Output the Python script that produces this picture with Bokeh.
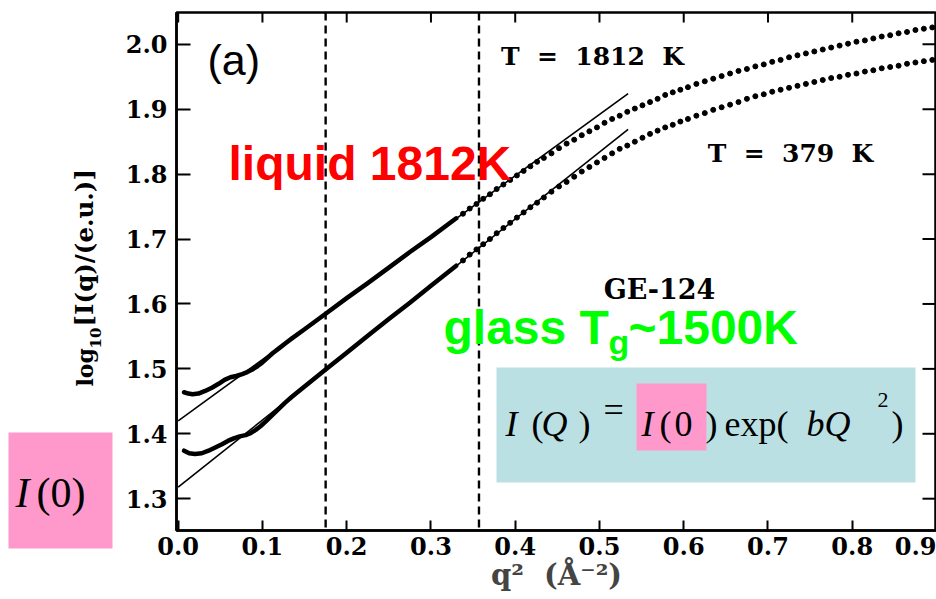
import math
from bokeh.plotting import figure
from bokeh.layouts import row
from bokeh.models import (Range1d, FixedTicker, PrintfTickFormatter,
                          Span, BoxAnnotation, Label)
from bokeh.core.properties import value
from bokeh.embed import file_html
from bokeh.resources import INLINE

# ---------------- data ----------------
# dense low-q part of the curves (drawn as a thick line)
q2_dense_1812 = [0.007, 0.012, 0.017, 0.024, 0.032, 0.040, 0.048, 0.055, 0.062, 0.069,
                 0.076, 0.082, 0.088, 0.094, 0.100, 0.106, 0.112, 0.120, 0.127, 0.135,
                 0.150, 0.175, 0.200, 0.225, 0.250, 0.275, 0.300, 0.330]
logI_dense_1812 = [1.464, 1.462, 1.461, 1.462, 1.466, 1.471, 1.477, 1.483, 1.487, 1.489,
                   1.492, 1.495, 1.499, 1.504, 1.510, 1.517, 1.524, 1.532, 1.539, 1.547,
                   1.561, 1.585, 1.609, 1.632, 1.656, 1.680, 1.703, 1.732]
q2_dense_379 = [0.007, 0.013, 0.020, 0.028, 0.036, 0.044, 0.052, 0.059, 0.066, 0.073,
                0.080, 0.086, 0.092, 0.098, 0.104, 0.111, 0.119, 0.127, 0.135, 0.150,
                0.175, 0.200, 0.225, 0.250, 0.275, 0.300, 0.330]
logI_dense_379 = [1.374, 1.370, 1.369, 1.370, 1.374, 1.379, 1.384, 1.389, 1.393, 1.396,
                  1.398, 1.401, 1.406, 1.412, 1.419, 1.428, 1.438, 1.448, 1.457, 1.473,
                  1.499, 1.525, 1.551, 1.577, 1.602, 1.628, 1.659]

# sparser high-q part (drawn as dots)
q2_dotted = [0.338, 0.346, 0.354, 0.362, 0.370, 0.378, 0.386, 0.394, 0.402, 0.410,
             0.418, 0.426, 0.434, 0.443, 0.452, 0.461, 0.470, 0.479, 0.488, 0.497,
             0.506, 0.515, 0.524, 0.533, 0.542, 0.551, 0.560, 0.569, 0.578, 0.587,
             0.596, 0.605, 0.615, 0.625, 0.635, 0.645, 0.655, 0.665, 0.675, 0.685,
             0.695, 0.705, 0.715, 0.725, 0.735, 0.745, 0.755, 0.765, 0.775, 0.785,
             0.795, 0.805, 0.815, 0.825, 0.835, 0.845, 0.855, 0.865, 0.875, 0.885,
             0.895, 0.905]
logI_dotted_1812 = [1.739, 1.747, 1.754, 1.762, 1.769, 1.777, 1.784, 1.791, 1.798, 1.805,
                    1.812, 1.819, 1.825, 1.832, 1.840, 1.847, 1.853, 1.860, 1.866, 1.872,
                    1.879, 1.885, 1.890, 1.896, 1.901, 1.906, 1.911, 1.916, 1.922, 1.926,
                    1.930, 1.934, 1.939, 1.943, 1.947, 1.951, 1.955, 1.959, 1.962, 1.966,
                    1.969, 1.973, 1.976, 1.980, 1.983, 1.986, 1.989, 1.992, 1.995, 1.998,
                    2.001, 2.004, 2.006, 2.009, 2.012, 2.014, 2.017, 2.019, 2.022, 2.024,
                    2.026, 2.028]
logI_dotted_379 = [1.667, 1.676, 1.684, 1.692, 1.700, 1.709, 1.717, 1.725, 1.733, 1.741,
                   1.749, 1.756, 1.764, 1.773, 1.781, 1.788, 1.796, 1.804, 1.811, 1.818,
                   1.825, 1.832, 1.839, 1.844, 1.850, 1.856, 1.862, 1.867, 1.872, 1.876,
                   1.881, 1.885, 1.890, 1.894, 1.899, 1.903, 1.907, 1.911, 1.916, 1.920,
                   1.923, 1.927, 1.930, 1.933, 1.936, 1.939, 1.942, 1.945, 1.948, 1.950,
                   1.953, 1.955, 1.958, 1.960, 1.963, 1.965, 1.967, 1.970, 1.972, 1.974,
                   1.976, 1.978]

# Guinier fit lines
fit_q2 = [0.0, 0.534]
fit_1812 = [1.420, 1.924]
fit_379 = [1.318, 1.869]

# dashed guide lines (fit window)
guide_q2 = [0.175, 0.357]

x_ticks = [0.0, 0.1, 0.2, 0.3, 0.4, 0.5, 0.6, 0.7, 0.8, 0.9]
y_ticks = [1.3, 1.4, 1.5, 1.6, 1.7, 1.8, 1.9, 2.0]

# ---------------- layout helpers (page pixel -> data) ----------------
W, H = 936, 599
SIDE_W = 118                       # left strip holding the y label and the I(0) tag
X_LO, X_HI = -0.002, 0.9
Y_LO, Y_HI = 1.251, 2.049
FL, FT, FR, FB = 176, 12, 936, 530  # frame edges in page pixels
BASE_FIX = 0.3                     # alphabetic-baseline correction (in em)
NB = "\u00a0"


def dx(px):
    return X_LO + (px - FL) * (X_HI - X_LO) / (FR - FL)


def dy(py):
    return Y_LO + (FB - py) * (Y_HI - Y_LO) / (FB - FT)


SERIF_B = "DejaVu Serif"
TS = "Liberation Serif"

# ---------------- main plot ----------------
p = figure(width=W - SIDE_W, height=H, x_range=Range1d(X_LO, X_HI), y_range=Range1d(Y_LO, Y_HI),
           output_backend="svg", toolbar_location=None,
           min_border_left=FL - SIDE_W, min_border_right=0, min_border_top=FT,
           min_border_bottom=H - FB,
           background_fill_color="white", border_fill_color="white")
p.grid.visible = False
p.outline_line_color = "black"
p.outline_line_width = 2.5
p.frame_align = False


def style_axis(ax, tick_in):
    ax.major_tick_in = tick_in
    ax.major_tick_out = 0
    ax.major_tick_line_width = 2
    ax.major_tick_line_color = "black"
    ax.minor_tick_line_color = None
    ax.axis_line_width = 2.5
    ax.axis_line_color = "black"
    ax.major_label_text_font = SERIF_B
    ax.major_label_text_font_style = "bold"
    ax.major_label_text_color = "black"
    ax.major_label_text_font_size = "24px"


xa = p.xaxis[0]
xa.ticker = FixedTicker(ticks=x_ticks)
xa.formatter = PrintfTickFormatter(format="%.1f")
style_axis(xa, 10)
xa.major_label_standoff = 6
xa.axis_label = "q\u00b2" + NB + NB + "(\u00c5\u207b\u00b2)"
xa.axis_label_text_font = SERIF_B
xa.axis_label_text_font_style = "bold"
xa.axis_label_text_font_size = "29px"
xa.axis_label_standoff = 0

ya = p.yaxis[0]
ya.ticker = FixedTicker(ticks=y_ticks)
ya.formatter = PrintfTickFormatter(format="%.1f")
style_axis(ya, 14)
ya.major_label_standoff = 9

# inward ticks on the top and right frame edges
p.ray(x=x_ticks, y=[Y_HI] * len(x_ticks), length=10, length_units="screen",
      angle=-math.pi / 2, line_color="black", line_width=2)
p.ray(x=[X_HI] * len(y_ticks), y=y_ticks, length=14, length_units="screen",
      angle=math.pi, line_color="black", line_width=2)

# dashed guides
for g in guide_q2:
    p.add_layout(Span(location=g, dimension="height", line_color="black",
                      line_width=2.4, line_dash="8 5"))

# fit lines
p.line(fit_q2, fit_1812, line_color="black", line_width=1.6)
p.line(fit_q2, fit_379, line_color="black", line_width=1.6)

# data curves
p.line(q2_dense_1812, logI_dense_1812, line_color="black", line_width=4.5,
       line_join="round", line_cap="round")
p.line(q2_dense_379, logI_dense_379, line_color="black", line_width=4.5,
       line_join="round", line_cap="round")
p.scatter(q2_dotted, logI_dotted_1812, size=5, color="black")
p.scatter(q2_dotted, logI_dotted_379, size=5, color="black")

# ---------------- annotations ----------------
p.add_layout(BoxAnnotation(left=dx(496), right=dx(915), top=dy(367), bottom=dy(482),
                           fill_color="#BAE0E3", fill_alpha=1.0, line_color=None))
p.add_layout(BoxAnnotation(left=dx(636), right=dx(706), top=dy(383), bottom=dy(450),
                           fill_color="#FF99CC", fill_alpha=1.0, line_color=None))


def lab(text, px, py, font, size, style="normal", color="black", align="left", baseline="alphabetic"):
    if baseline == "alphabetic":
        py = py - BASE_FIX * size
    p.add_layout(Label(x=dx(px), y=dy(py), text=text, text_font=font,
                       text_font_size=f"{size}px", text_font_style=style, text_color=color,
                       text_align=align, text_baseline=baseline))


lab("(a)", 207, 72, "Liberation Sans", 43)
lab("liquid 1812K", 228, 177, "Liberation Sans", 48, "bold", "#FF0000")
lab("glass T", 443, 341, "Liberation Sans", 48, "bold", "#00FF00")
lab("g", 608, 352, "Liberation Sans", 34, "bold", "#00FF00")
lab("~1500K", 628, 341, "Liberation Sans", 48, "bold", "#00FF00")

lab(f"T{NB}{NB}={NB}{NB}1812{NB}{NB}K", 592, 56, SERIF_B, 25, "bold", align="center", baseline="middle")
lab(f"T{NB}{NB}={NB}{NB}379{NB}{NB}K", 790, 153, SERIF_B, 25, "bold", align="center", baseline="middle")
lab("GE-124", 659, 289, SERIF_B, 27, "bold", align="center", baseline="middle")

# equation I(Q) = I(0) exp(bQ^2)
eq_pieces = [("I", 505, 434, "italic", 36), ("(", 531, 434, "normal", 36),
             ("Q", 541, 434, "italic", 36), (")", 578, 434, "normal", 36),
             ("=", 603, 420, "normal", 36), ("I", 641, 434, "italic", 36),
             ("(", 659, 434, "normal", 36), ("0", 674, 434, "normal", 36),
             (")", 705, 434, "normal", 36), ("exp(", 724, 434, "normal", 36),
             ("bQ", 806, 434, "italic", 36), ("2", 877, 406, "normal", 22),
             (")", 891, 434, "normal", 36)]
for t, px, py, st, sz in eq_pieces:
    lab(t, px, py, TS, sz, st)

# ---------------- left strip: y-axis title and the I(0) tag ----------------
side = figure(width=SIDE_W, height=H, x_range=Range1d(0, SIDE_W), y_range=Range1d(H, 0),
              output_backend="svg", toolbar_location=None, x_axis_type=None, y_axis_type=None,
              min_border=0, background_fill_color="white", border_fill_color="white")
side.grid.visible = False
side.outline_line_color = None
side.frame_align = False

side.quad(left=[8], right=[112], top=[432], bottom=[548], fill_color="#FF99CC", line_color=None)
side.text(x=[15], y=[505 - BASE_FIX * 42], text=["I"], text_font=value(TS), text_font_style="italic",
          text_font_size="42px", text_baseline="alphabetic", text_color="black")
side.text(x=[36], y=[505 - BASE_FIX * 42], text=["(0)"], text_font=value(TS), text_font_style="normal",
          text_font_size="42px", text_baseline="alphabetic", text_color="black")

# rotated y title: log_10[I(q)/(e.u.)]  (reads bottom to top)
rot = math.pi / 2
side.text(x=[91 - BASE_FIX * 22], y=[386], text=["log"], angle=rot, text_font=value(SERIF_B),
          text_font_style="bold", text_font_size="22px", text_baseline="alphabetic")
side.text(x=[99 - BASE_FIX * 15], y=[348], text=["10"], angle=rot, text_font=value(SERIF_B),
          text_font_style="bold", text_font_size="15px", text_baseline="alphabetic")
side.text(x=[91 - BASE_FIX * 24.5], y=[326], text=["[I(q)/(e.u.)]"], angle=rot, text_font=value(SERIF_B),
          text_font_style="bold", text_font_size="24.5px", text_baseline="alphabetic")

layout = row(side, p)
open("out.html", "w").write(file_html(layout, INLINE))
